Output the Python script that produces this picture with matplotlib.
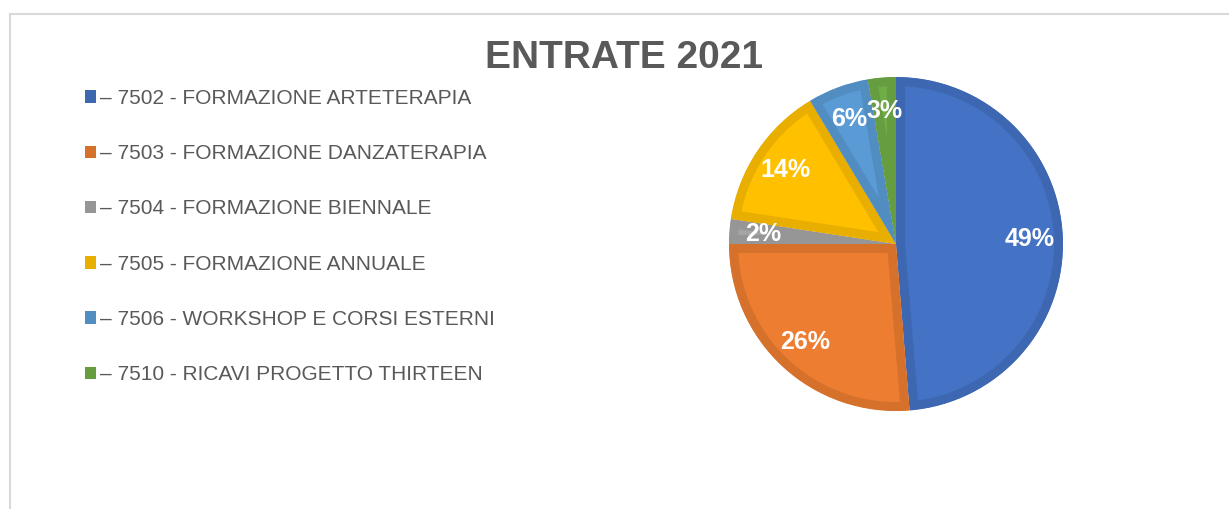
import matplotlib.pyplot as plt
from matplotlib.patches import Patch
from matplotlib.lines import Line2D

# --- dati ---
voci = ['– 7502 - FORMAZIONE ARTETERAPIA',
        '– 7503 - FORMAZIONE DANZATERAPIA',
        '– 7504 - FORMAZIONE BIENNALE',
        '– 7505 - FORMAZIONE ANNUALE',
        '– 7506 - WORKSHOP E CORSI ESTERNI',
        '– 7510 - RICAVI PROGETTO THIRTEEN']
quote = [48.7, 26.3, 2.4, 14.0, 5.9, 2.7]
colori = ['#4472C4', '#ED7D31', '#A5A5A5', '#FFC000', '#5B9BD5', '#70AD47']
bordi = ['#3E67B2', '#D6712C', '#969696', '#E8AE00', '#528DC2', '#669D40']

W, H = 1229, 509
fig = plt.figure(figsize=(W / 100, H / 100), dpi=100)
plt.rcParams['font.family'] = ['Liberation Sans', 'DejaVu Sans']

# cornice del grafico (solo sopra e a sinistra visibili)
fig.add_artist(Line2D([10 / W, 1], [1 - 14 / H, 1 - 14 / H], color='#D9D9D9', lw=1.5))
fig.add_artist(Line2D([10 / W, 10 / W], [0, 1 - 14 / H], color='#D9D9D9', lw=1.5))

# --- torta ---
cx, cy, r = 896, H - 244, 167
ax = fig.add_axes([(cx - r) / W, (cy - r) / H, 2 * r / W, 2 * r / H])
wedges, texts, autotexts = ax.pie(quote, colors=colori, startangle=90, counterclock=False,
                                  autopct='%1.0f%%', pctdistance=0.8,
                                  textprops=dict(color='white', fontsize=18, fontweight='bold'))
for w, b in zip(wedges, bordi):
    w.set_edgecolor(b)
    w.set_linewidth(13)
    w.set_clip_on(True)
    w.set_clip_path(w)  # bordo solo interno
ax.set_xlim(-1, 1)
ax.set_ylim(-1, 1)
ax.set_aspect('equal')

# --- titolo ---
fig.text(624 / W, 1 - 68 / H, 'ENTRATE 2021', ha='center', va='baseline',
         fontsize=28, fontweight='bold', color='#595959')

# --- legenda ---
handles = [Patch(facecolor=c, edgecolor='none') for c in bordi]
fig.legend(handles, voci, loc='upper left', bbox_to_anchor=(85 / W, 1 - 89 / H),
           frameon=False, fontsize=15, labelcolor='#595959',
           handlelength=0.53, handleheight=0.53, handletextpad=0.2,
           labelspacing=1.74, borderpad=0, borderaxespad=0)

fig.savefig('out.png', dpi=100)
